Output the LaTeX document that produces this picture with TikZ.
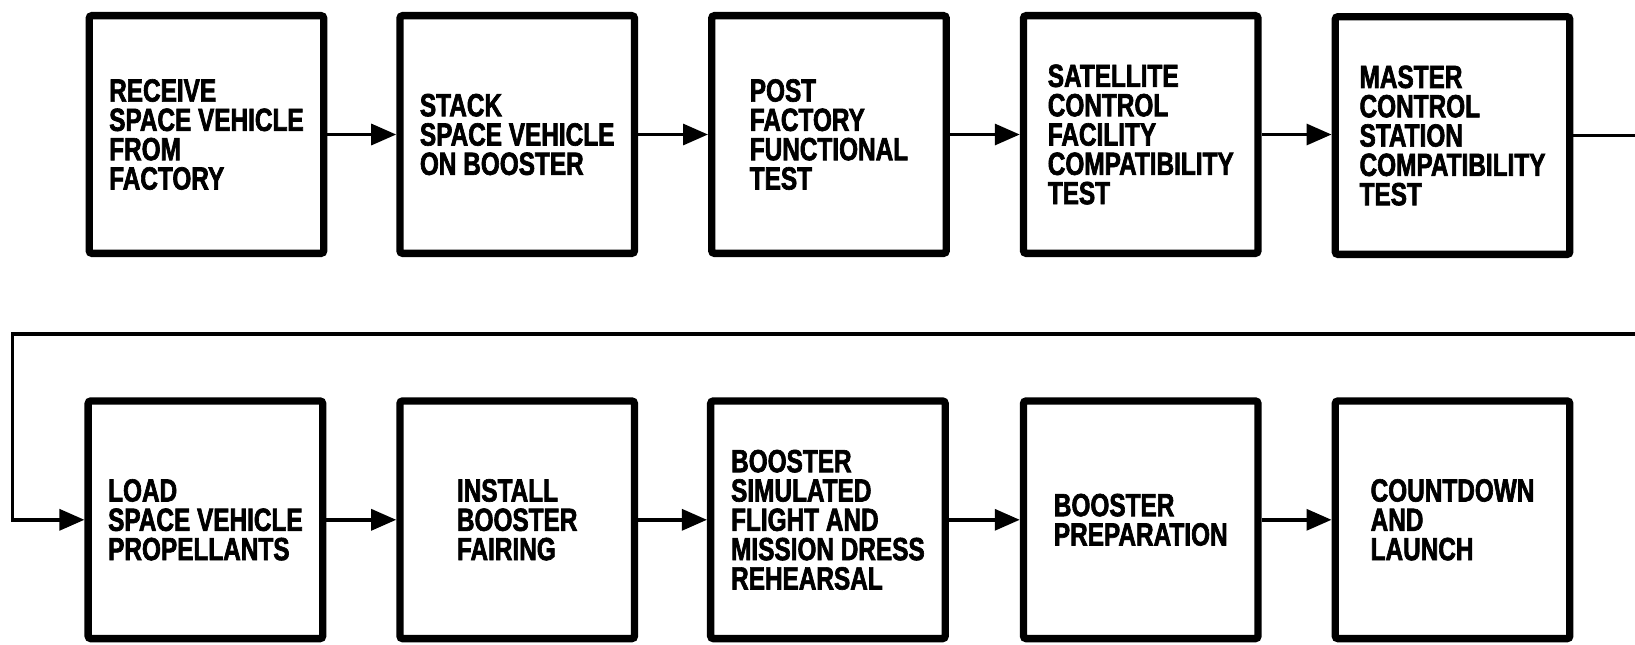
\documentclass[tikz,border=0pt]{standalone}
\usepackage{fontspec}
\newfontfamily\boxfont{Liberation Sans}[FakeStretch=0.76,FakeBold=2]
\usetikzlibrary{arrows.meta}
\begin{document}
\begin{tikzpicture}[x=0.02cm,y=-0.02cm,
  stepbox/.style={draw, line width=4pt, rounded corners=1.5pt,
    minimum width=4.5cm, minimum height=4.56cm, align=left, inner sep=0pt,
    font=\boxfont\bfseries\fontsize{17.5pt}{16pt}\selectfont},
  flow/.style={line width=2pt, -{Triangle[length=0.48cm,width=0.4cm]}},
  plain/.style={line width=2pt}]
\useasboundingbox (0,0) rectangle (1568,618);
% top row
\node[stepbox] (b1) at (198,129) {RECEIVE\\SPACE VEHICLE\\FROM\\FACTORY};
\node[stepbox] (b2) at (496,129) {STACK\\SPACE VEHICLE\\ON BOOSTER};
\node[stepbox] (b3) at (795,129) {POST\\FACTORY\\FUNCTIONAL\\TEST};
\node[stepbox] (b4) at (1094,129) {SATELLITE\\CONTROL\\FACILITY\\COMPATIBILITY\\TEST};
\node[stepbox] (b5) at (1393,130) {MASTER\\CONTROL\\STATION\\COMPATIBILITY\\TEST};
% bottom row
\node[stepbox] (b6) at (197,498.5) {LOAD\\SPACE VEHICLE\\PROPELLANTS};
\node[stepbox] (b7) at (496,498.5) {INSTALL\\BOOSTER\\FAIRING};
\node[stepbox] (b8) at (794,498.5) {BOOSTER\\SIMULATED\\FLIGHT AND\\MISSION DRESS\\REHEARSAL};
\node[stepbox] (b9) at (1094,498.5) {BOOSTER\\PREPARATION};
\node[stepbox] (b10) at (1393,498.5) {COUNTDOWN\\AND\\LAUNCH};
% connectors
\draw[flow] (b1) -- (b2);
\draw[flow] (b2) -- (b3);
\draw[flow] (b3) -- (b4);
\draw[flow] (b4.east) -- (b4.east -| b5.west);
\coordinate (exitR) at (1568,130);
\draw[plain] (b5.east) -- (exitR);
\coordinate (inR) at (1568,320);
\coordinate (turn) at (12,320);
\draw[flow] (inR) -- (turn) |- (b6.west);
\draw[flow] (b6) -- (b7);
\draw[flow] (b7) -- (b8);
\draw[flow] (b8) -- (b9);
\draw[flow] (b9) -- (b10);
\end{tikzpicture}
\end{document}
